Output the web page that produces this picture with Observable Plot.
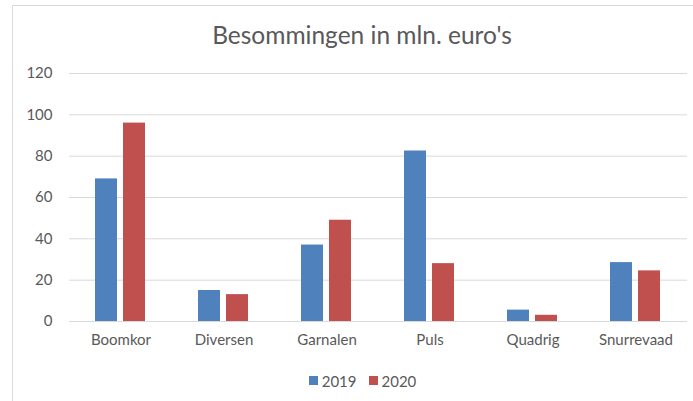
<!DOCTYPE html>
<html>
<head>
<meta charset="utf-8">
<script src="https://cdn.jsdelivr.net/npm/d3@7"></script>
<script src="https://cdn.jsdelivr.net/npm/@observablehq/plot@0.6"></script>
<style>
  html, body { margin: 0; padding: 0; background: #fff; }
  #wrap { position: relative; width: 693px; height: 401px; overflow: hidden; font-family: Lato, sans-serif; color: #595959; }
  #frame { position: absolute; left: 12px; top: 5px; width: 720px; height: 420px; border-left: 1px solid #d9d9d9; border-top: 1px solid #d9d9d9; }
  #title { position: absolute; top: 20px; left: 0; width: 724px; text-align: center; font-size: 24.5px; }
  #chart { position: absolute; left: 0; top: 60px; }
  #legend { position: absolute; top: 370px; left: 0; width: 725px; text-align: center; font-size: 15px; }
  .sw { display: inline-flex; align-items: center; margin: 0 6px; }
  .sq { display: inline-block; width: 9px; height: 9px; margin-right: 4px; }
</style>
</head>
<body>
<div id="wrap">
  <div id="frame"></div>
  <div id="title">Besommingen in mln. euro's</div>
  <div id="chart"></div>
  <div id="legend"></div>
</div>
<script>
const categories = ["Boomkor", "Diversen", "Garnalen", "Puls", "Quadrig", "Snurrevaad"];
const years = ["2019", "2020"];
const values2019 = [69, 15, 37, 82.5, 5.5, 28.5];
const values2020 = [96, 13, 49, 28, 3, 24.5];
const yTicks = [0, 20, 40, 60, 80, 100, 120];
const colors = ["#4F81BD", "#C0504D"];

const data = categories.flatMap((c, i) => [
  {category: c, year: years[0], value: values2019[i]},
  {category: c, year: years[1], value: values2020[i]}
]);

const chart = Plot.plot({
  width: 693,
  height: 300,
  marginLeft: 68,
  marginRight: 6,
  marginTop: 13,
  marginBottom: 39,
  style: {fontFamily: "Lato, sans-serif", fontSize: "15px", color: "#595959", background: "transparent"},
  fx: {domain: categories, padding: 0, label: null, axis: "bottom", tickSize: 0, tickPadding: 13},
  x: {domain: years, paddingInner: 0.209, paddingOuter: 0.902, axis: null},
  y: {domain: [0, 120], ticks: yTicks, tickSize: 0, tickPadding: 17, label: null},
  color: {domain: years, range: colors},
  marks: [
    Plot.ruleY(yTicks, {stroke: "#d9d9d9", strokeWidth: 1}),
    Plot.barY(data, {fx: "category", x: "year", y: "value", fill: "year"})
  ]
});
document.getElementById("chart").appendChild(chart);

const legend = document.getElementById("legend");
years.forEach((y, i) => {
  const s = document.createElement("span");
  s.className = "sw";
  const q = document.createElement("span");
  q.className = "sq";
  q.style.background = colors[i];
  s.appendChild(q);
  s.appendChild(document.createTextNode(y));
  legend.appendChild(s);
});
</script>
</body>
</html>
